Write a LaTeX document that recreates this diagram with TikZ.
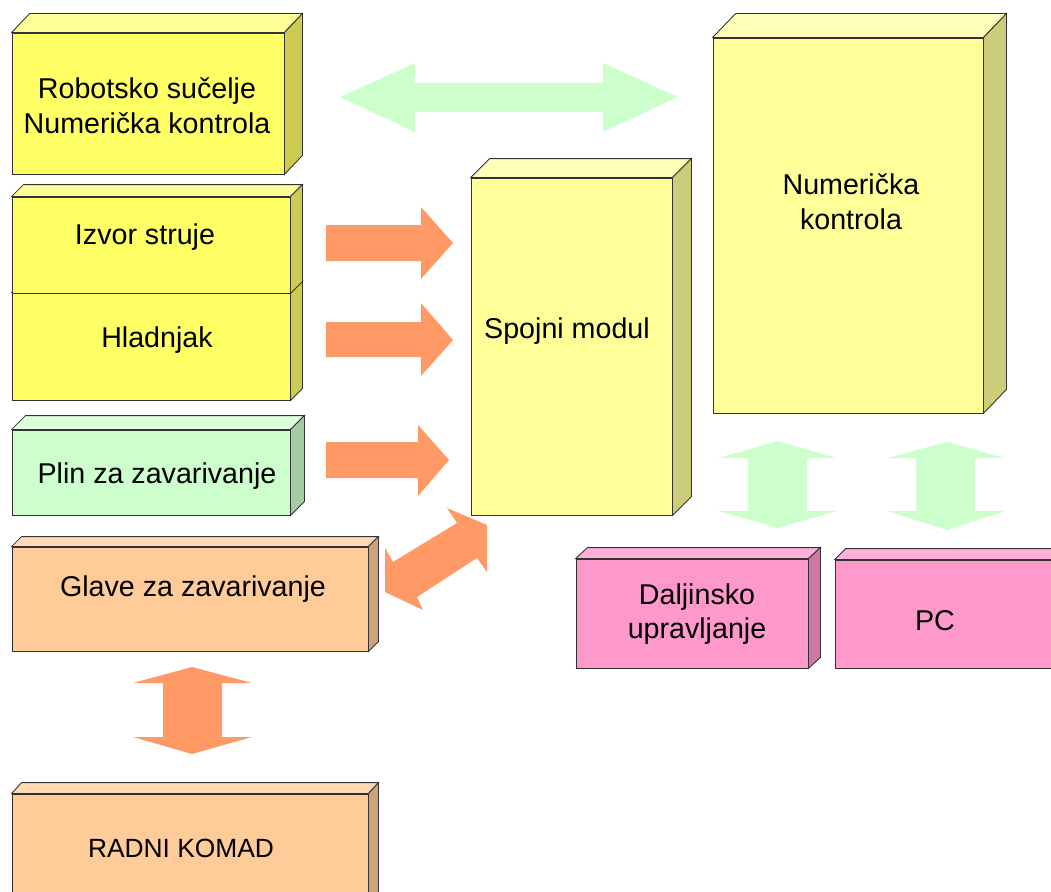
\documentclass[tikz,border=0pt]{standalone}
\usepackage{fontspec}
\setmainfont{Liberation Sans}
\usetikzlibrary{calc,positioning,fit}

\definecolor{yelfront}{RGB}{255,255,102}
\definecolor{yeltop}{RGB}{255,255,150}
\definecolor{yelside}{RGB}{204,204,82}
\definecolor{palefront}{RGB}{255,255,153}
\definecolor{paletop}{RGB}{255,255,185}
\definecolor{paleside}{RGB}{204,204,122}
\definecolor{grfront}{RGB}{204,255,204}
\definecolor{grtop}{RGB}{222,255,222}
\definecolor{grside}{RGB}{163,204,163}
\definecolor{orfront}{RGB}{255,204,153}
\definecolor{ortop}{RGB}{255,218,180}
\definecolor{orside}{RGB}{204,163,122}
\definecolor{pkfront}{RGB}{255,153,204}
\definecolor{pktop}{RGB}{255,176,216}
\definecolor{pkside}{RGB}{204,122,163}
\definecolor{orarrow}{RGB}{255,153,102}
\definecolor{grarrow}{RGB}{204,255,204}

\tikzset{
  face/.style={draw=black!80, line width=0.5pt, inner sep=0pt},
  lbl/.style={align=center, inner sep=0pt, font=\fontsize{16.3}{19.8}\selectfont},
  orblock/.style={fill=orarrow},
  grblock/.style={fill=grarrow}
}

% top and side face of a box: node, dx, dy, top colour, side colour
\newcommand{\cubeside}[5]{
  \draw[face, fill=#4] (#1.north west) -- ++(#2,-#3) -- ($(#1.north east)+(#2,-#3)$) -- (#1.north east) -- cycle;
  \draw[face, fill=#5] (#1.north east) -- ++(#2,-#3) -- ($(#1.south east)+(#2,-#3)$) -- (#1.south east) -- cycle;
}

\begin{document}
\begin{tikzpicture}[x=0.02cm, y=-0.02cm]
\useasboundingbox (0,0) rectangle (1051,892);
\clip (0,0) rectangle (1051,892);

% left column
\node[face, fill=yelfront, fit={(12,33) (284,174)}] (robot) {};
\cubeside{robot}{18}{19}{yeltop}{yelside}
\node[lbl] (robot-t) at (147,106) {Robotsko sučelje\\Numerička kontrola};

\node[face, fill=yelfront, fit={(12,293) (290,400)}] (hlad) {};
\cubeside{hlad}{12}{12}{yeltop}{yelside}
\node[face, fill=yelfront, fit={(12,197) (290,293)}] (izvor) {};
\cubeside{izvor}{12}{12}{yeltop}{yelside}
\node[lbl] (izvor-t) at (145,237) {Izvor struje};
\node[lbl] (hlad-t) at (157,340) {Hladnjak};

\node[face, fill=grfront, fit={(12,430) (290,515)}] (plin) {};
\cubeside{plin}{14}{14}{grtop}{grside}
\node[lbl] (plin-t) at (157,476) {Plin za zavarivanje};

\node[face, fill=orfront, fit={(12,547) (368,651)}] (glave) {};
\cubeside{glave}{10}{10}{ortop}{orside}
\node[lbl] (glave-t) at (193,589) {Glave za zavarivanje};

\node[face, fill=orfront, fit={(12,794) (368,910)}] (radni) {};
\cubeside{radni}{10}{11}{ortop}{orside}
\node[lbl, font=\fontsize{15}{18}\selectfont] (radni-t) at (181,848) {RADNI KOMAD};

% middle and right
\node[face, fill=palefront, fit={(471,178) (672,515)}] (spoj) {};
\cubeside{spoj}{19}{19}{paletop}{paleside}
\node[lbl] (spoj-t) at (567,331) {Spojni modul};

\node[face, fill=palefront, fit={(713,38) (983,413)}] (numk) {};
\cubeside{numk}{23}{24}{paletop}{paleside}
\node[lbl] (numk-t) at (851,202) {Numerička\\kontrola};

\node[face, fill=pkfront, fit={(576,559) (808,668)}] (dalj) {};
\cubeside{dalj}{12}{11}{pktop}{pkside}
\node[lbl] (dalj-t) at (697,614) {Daljinsko\\upravljanje};

\node[face, fill=pkfront, fit={(835,560) (1070,668)}] (pc) {};
\cubeside{pc}{11}{11}{pktop}{pkside}
\node[lbl] (pc-t) at (935,621) {PC};

% block arrows
\fill[grblock] (340,97) -- (415,63) -- (415,83) -- (603,83) -- (603,63) -- (678,97)
  -- (603,132) -- (603,112) -- (415,112) -- (415,132) -- cycle;

\fill[orblock] (326,225) -- (421,225) -- (421,207) -- (453,243) -- (421,279) -- (421,261) -- (326,261) -- cycle;
\fill[orblock] (326,322) -- (421,322) -- (421,303) -- (453,340) -- (421,376) -- (421,357) -- (326,357) -- cycle;
\fill[orblock] (326,442) -- (418,442) -- (418,425) -- (449,460) -- (418,496) -- (418,478) -- (326,478) -- cycle;

\fill[orblock] (385,548) -- (393,562) -- (457,523) -- (447,508) -- (487,525) -- (487,572)
  -- (477,558) -- (417,597) -- (423,610) -- (385,592) -- cycle;

\fill[orblock] (192,667) -- (252,683) -- (222,683) -- (222,737) -- (252,737) -- (192,754)
  -- (133,737) -- (163,737) -- (163,683) -- (133,683) -- cycle;

\fill[grblock] (778,441) -- (837,458) -- (807,458) -- (807,511) -- (837,511) -- (778,528)
  -- (718,511) -- (748,511) -- (748,458) -- (718,458) -- cycle;
\fill[grblock] (947,442) -- (1005,458) -- (975,458) -- (975,511) -- (1005,511) -- (947,530)
  -- (887,511) -- (916,511) -- (916,458) -- (887,458) -- cycle;
\end{tikzpicture}
\end{document}
